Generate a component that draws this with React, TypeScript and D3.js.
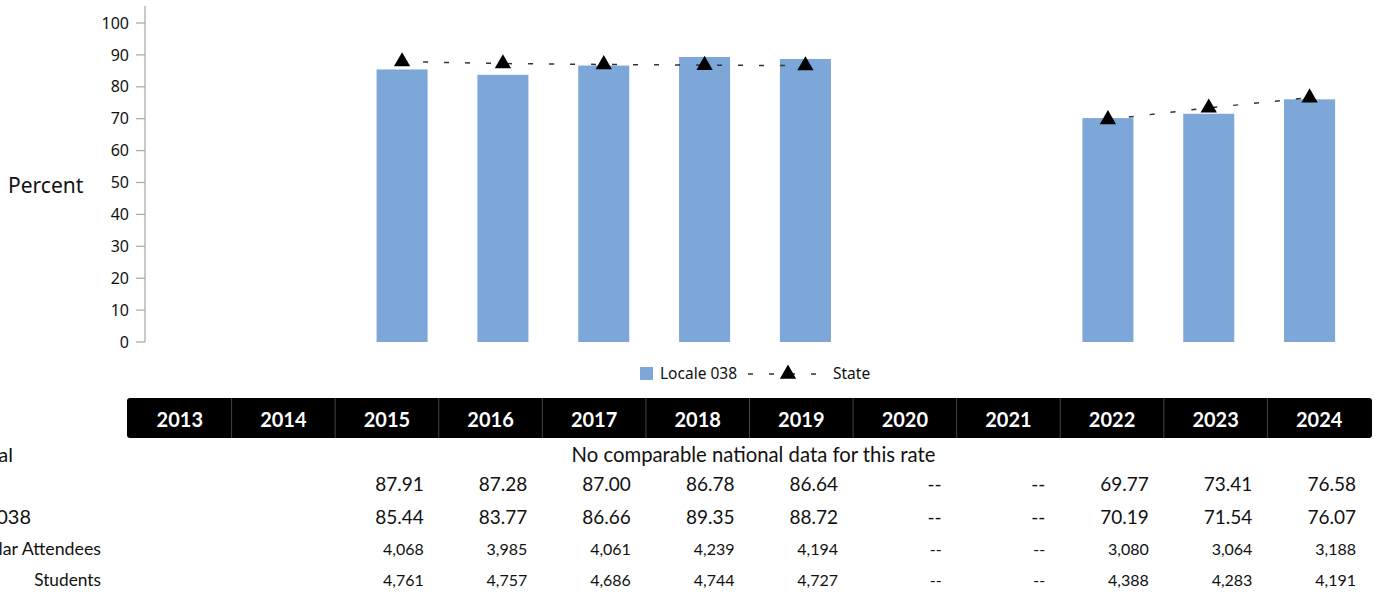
import React, { useRef, useEffect } from 'react';
import * as d3 from 'd3';

// chart data
const years = ['2013', '2014', '2015', '2016', '2017', '2018', '2019', '2020', '2021', '2022', '2023', '2024'];
const localeValues: (number | null)[] = [null, null, 85.44, 83.77, 86.66, 89.35, 88.72, null, null, 70.19, 71.54, 76.07];
const stateValues: (number | null)[] = [null, null, 87.91, 87.28, 87.0, 86.78, 86.64, null, null, 69.77, 73.41, 76.58];
const attendees: (number | null)[] = [null, null, 4068, 3985, 4061, 4239, 4194, null, null, 3080, 3064, 3188];
const students: (number | null)[] = [null, null, 4761, 4757, 4686, 4744, 4727, null, null, 4388, 4283, 4191];
const notReported = ['2020', '2021'];
const yTicks = [0, 10, 20, 30, 40, 50, 60, 70, 80, 90, 100];
const nationalNote = 'No comparable national data for this rate';

const W = 1382;
const H = 593;

const App: React.FC = () => {
  const svgRef = useRef<SVGSVGElement>(null);

  useEffect(() => {
    if (!svgRef.current) return;
    const svg = d3.select(svgRef.current);
    svg.selectAll('*').remove();

    const axisFont = '"Noto Sans", sans-serif';
    const tableFont = 'Lato, "Open Sans", sans-serif';

    const x = d3.scaleBand<string>()
      .domain(years)
      .range([150, 1360])
      .paddingInner(0.494)
      .paddingOuter(0.247);

    const y = d3.scaleLinear().domain([0, 100]).range([342, 23]);

    // y axis
    const axisX = 145;
    svg.append('line')
      .attr('x1', axisX).attr('x2', axisX)
      .attr('y1', 6).attr('y2', y(0))
      .attr('stroke', '#a6a6a6').attr('stroke-width', 1.2);

    const ticks = svg.append('g');
    ticks.selectAll('line')
      .data(yTicks)
      .join('line')
      .attr('x1', axisX - 9).attr('x2', axisX)
      .attr('y1', d => y(d)).attr('y2', d => y(d))
      .attr('stroke', '#a6a6a6').attr('stroke-width', 1.2);
    ticks.selectAll('text')
      .data(yTicks)
      .join('text')
      .attr('x', 129)
      .attr('y', d => y(d))
      .attr('dy', '0.35em')
      .attr('text-anchor', 'end')
      .attr('font-family', axisFont)
      .attr('font-size', 16)
      .attr('fill', '#111')
      .text(d => d);

    svg.append('text')
      .attr('x', 8).attr('y', 186)
      .attr('dy', '0.35em')
      .attr('font-family', axisFont)
      .attr('font-size', 21)
      .attr('fill', '#111')
      .text('Percent');

    // bars
    const barData = years.map((yr, i) => ({ yr, v: localeValues[i] })).filter(d => d.v != null) as { yr: string; v: number }[];
    svg.append('g')
      .selectAll('rect')
      .data(barData)
      .join('rect')
      .attr('x', d => x(d.yr)!)
      .attr('y', d => y(d.v))
      .attr('width', x.bandwidth())
      .attr('height', d => y(0) - y(d.v))
      .attr('fill', '#7da7d8');

    // state line
    const statePts = years.map((yr, i) => ({ yr, v: stateValues[i] }));
    const line = d3.line<{ yr: string; v: number | null }>()
      .defined(d => d.v != null)
      .x(d => x(d.yr)! + x.bandwidth() / 2)
      .y(d => y(d.v as number));

    svg.append('path')
      .datum(statePts)
      .attr('fill', 'none')
      .attr('stroke', '#333')
      .attr('stroke-width', 1.5)
      .attr('stroke-dasharray', '5,16')
      .attr('d', line);

    const tri = d3.symbol().type(d3.symbolTriangle).size(115);
    svg.append('g')
      .selectAll('path')
      .data(statePts.filter(d => d.v != null))
      .join('path')
      .attr('transform', d => `translate(${x(d.yr)! + x.bandwidth() / 2},${y(d.v as number)})`)
      .attr('d', tri)
      .attr('fill', '#000');

    // legend
    const lg = svg.append('g').attr('transform', 'translate(0,374)');
    lg.append('rect').attr('x', 640).attr('y', -7).attr('width', 13).attr('height', 13).attr('fill', '#7da7d8');
    lg.append('text')
      .attr('x', 660).attr('dy', '0.35em')
      .attr('font-family', axisFont).attr('font-size', 15.5).attr('fill', '#111')
      .text('Locale 038');
    lg.append('line')
      .attr('x1', 748).attr('x2', 826).attr('y1', 0).attr('y2', 0)
      .attr('stroke', '#333').attr('stroke-width', 1.5)
      .attr('stroke-dasharray', '5,16');
    lg.append('path').attr('transform', 'translate(788,0)').attr('d', tri).attr('fill', '#000');
    lg.append('text')
      .attr('x', 833).attr('dy', '0.35em')
      .attr('font-family', axisFont).attr('font-size', 15.5).attr('fill', '#111')
      .text('State');

    // data table
    const cols = d3.scaleBand<string>().domain(years).range([128, 1371]);
    const header = svg.append('g');
    header.append('rect')
      .attr('x', 127).attr('y', 398)
      .attr('width', 1372 - 127).attr('height', 40)
      .attr('rx', 3)
      .attr('fill', '#000');
    header.selectAll('line')
      .data(years.slice(1))
      .join('line')
      .attr('x1', d => cols(d)!).attr('x2', d => cols(d)!)
      .attr('y1', 398).attr('y2', 438)
      .attr('stroke', '#555').attr('stroke-width', 0.8);
    header.selectAll('text')
      .data(years)
      .join('text')
      .attr('x', d => cols(d)! + cols.bandwidth() / 2)
      .attr('y', 420)
      .attr('dy', '0.35em')
      .attr('text-anchor', 'middle')
      .attr('font-family', tableFont)
      .attr('font-weight', 'bold')
      .attr('font-size', 20)
      .attr('fill', '#fff')
      .text(d => d);

    // row labels sit partly off the left edge, as in the source
    const rows = [
      { label: 'National', rowY: 455, size: 20, lx: 13, vsize: 19, values: null },
      { label: 'State', rowY: 484, size: 20, lx: -8, vsize: 19, values: stateValues },
      { label: 'Locale 038', rowY: 517, size: 20, lx: 31, vsize: 19, values: localeValues },
      { label: 'Regular Attendees', rowY: 549, size: 17.8, lx: 101, vsize: 16, values: attendees },
      { label: 'Students', rowY: 580, size: 17.3, lx: 101, vsize: 16, values: students },
    ];

    const fmtPct = d3.format('.2f');
    const fmtInt = d3.format(',');

    rows.forEach((r, ri) => {
      const g = svg.append('g');
      g.append('text')
        .attr('x', r.lx).attr('y', r.rowY).attr('dy', '0.35em')
        .attr('text-anchor', 'end')
        .attr('font-family', tableFont).attr('font-size', r.size).attr('fill', '#111')
        .text(r.label);

      if (!r.values) {
        g.append('text')
          .attr('x', (128 + 1371) / 2 + 4).attr('y', r.rowY).attr('dy', '0.35em')
          .attr('text-anchor', 'middle')
          .attr('font-family', tableFont).attr('font-size', 20.3).attr('fill', '#111')
          .text(nationalNote);
        return;
      }
      const vals = r.values;
      g.selectAll('text.v')
        .data(years)
        .join('text')
        .attr('class', 'v')
        .attr('x', d => cols(d)! + cols.bandwidth() - 15)
        .attr('y', r.rowY).attr('dy', '0.35em')
        .attr('text-anchor', 'end')
        .attr('font-family', tableFont).attr('font-size', r.vsize).attr('fill', '#111')
        .text((d, i) => {
          const v = vals[i];
          if (v == null) return notReported.includes(d) ? '--' : '';
          return ri < 3 ? fmtPct(v) : fmtInt(v);
        });
    });
  }, []);

  return (
    <svg
      ref={svgRef}
      width={W}
      height={H}
      style={{ position: 'absolute', left: 0, top: 0, background: '#fff' }}
    />
  );
};

export default App;
